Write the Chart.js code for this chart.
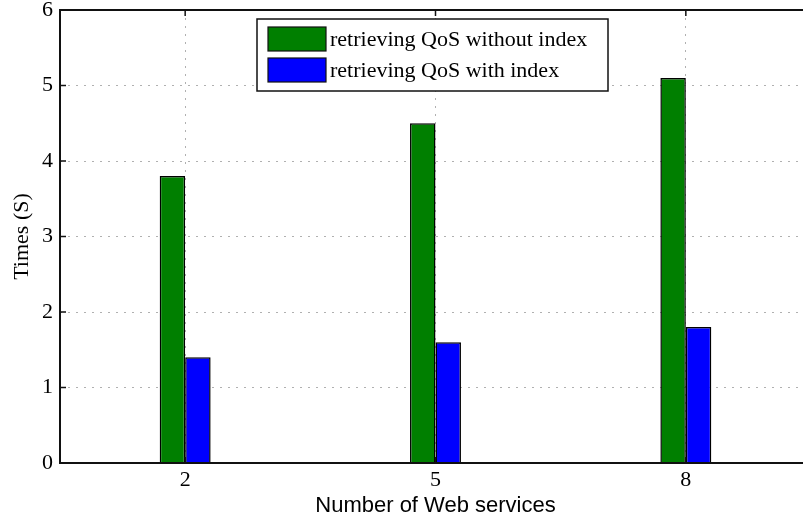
<!DOCTYPE html>
<html>
<head>
<meta charset="utf-8">
<title>Times (S)</title>
<script src="https://cdn.jsdelivr.net/npm/chart.js@4/dist/chart.umd.min.js"></script>
<style>
  html, body { margin: 0; padding: 0; background: #fff; overflow: hidden; }
  #wrap { width: 803px; height: 520px; overflow: hidden; }
</style>
</head>
<body>
<div id="wrap">
  <canvas id="chart" width="830" height="520"></canvas>
</div>
<script>
// number of web services (bar positions), zero groups sit between the labelled ones
const services = [2, 3.5, 5, 6.5, 8];
const withoutIndex = [3.8, 0, 4.5, 0, 5.1];
const withIndex = [1.4, 0, 1.6, 0, 1.8];
const xTicks = [2, 5, 8];
const seriesNames = ['retrieving QoS without index', 'retrieving QoS with index'];
const seriesColors = ['#007f00', '#0000ff'];

const serif = 'Liberation Serif, Times New Roman, serif';
const sans = 'Liberation Sans, Arial, sans-serif';

// matlab-ish box: frame, inward ticks and a framed legend
const boxPlugin = {
  id: 'box',
  afterDraw(chart) {
    const { ctx, chartArea: a, scales } = chart;
    ctx.save();
    ctx.strokeStyle = '#111';
    ctx.lineWidth = 1.5;
    ctx.beginPath();
    scales.y.ticks.forEach(t => {
      const y = scales.y.getPixelForValue(t.value);
      ctx.moveTo(a.left, y); ctx.lineTo(a.left + 6, y);
    });
    scales.x.ticks.forEach(t => {
      const x = scales.x.getPixelForValue(t.value);
      ctx.moveTo(x, a.bottom); ctx.lineTo(x, a.bottom - 6);
      ctx.moveTo(x, a.top); ctx.lineTo(x, a.top + 6);
    });
    ctx.stroke();

    ctx.lineWidth = 2;
    ctx.strokeRect(a.left, a.top, a.right - a.left, a.bottom - a.top);

    // legend
    const lx = 257, ly = 19, lw = 351, lh = 72;
    ctx.fillStyle = '#fff';
    ctx.fillRect(lx, ly, lw, lh);
    ctx.lineWidth = 1.5;
    ctx.strokeStyle = '#111';
    ctx.strokeRect(lx, ly, lw, lh);
    ctx.font = '22px ' + serif;
    ctx.textBaseline = 'middle';
    ctx.textAlign = 'left';
    chart.data.datasets.forEach((ds, i) => {
      const sy = ly + 8 + i * 31;
      ctx.fillStyle = ds.backgroundColor;
      ctx.fillRect(lx + 11, sy, 58, 24);
      ctx.lineWidth = 1.2;
      ctx.strokeRect(lx + 11, sy, 58, 24);
      ctx.fillStyle = '#000';
      ctx.fillText(ds.label, lx + 73, sy + 13);
    });
    ctx.restore();
  }
};

const mkData = vals => services.map((x, i) => ({ x: x, y: vals[i] }));

new Chart(document.getElementById('chart'), {
  type: 'bar',
  data: {
    datasets: [
      { label: seriesNames[0], data: mkData(withoutIndex), backgroundColor: seriesColors[0] },
      { label: seriesNames[1], data: mkData(withIndex), backgroundColor: seriesColors[1] }
    ]
  },
  options: {
    responsive: false,
    animation: false,
    layout: { padding: { top: 10, right: 19, left: 0, bottom: 0 } },
    datasets: {
      bar: {
        borderColor: '#000',
        borderWidth: 1.5,
        barPercentage: 1,
        categoryPercentage: 0.407
      }
    },
    plugins: {
      legend: { display: false },
      tooltip: { enabled: false }
    },
    scales: {
      x: {
        type: 'linear',
        min: 0.5,
        max: 9.5,
        offset: false,
        afterBuildTicks: s => { s.ticks = xTicks.map(v => ({ value: v })); },
        afterFit: s => { s.height = 57; },
        grid: { offset: false, color: '#b0b0b0', lineWidth: 1, drawTicks: false },
        border: { display: false, dash: [2, 6] },
        ticks: {
          padding: 4,
          color: '#000',
          font: { family: serif, size: 22 },
          callback: v => String(v)
        },
        title: {
          display: true,
          text: 'Number of Web services',
          color: '#000',
          font: { family: sans, size: 22 },
          padding: { top: 0, bottom: 1 }
        }
      },
      y: {
        min: 0,
        max: 6,
        afterFit: s => { s.width = 60; s.paddingTop = 0; s.paddingBottom = 0; },
        grid: {
          drawTicks: false,
          lineWidth: 1,
          color: c => (c.tick.value === 0 || c.tick.value === 6) ? 'rgba(0,0,0,0)' : '#b0b0b0'
        },
        border: { display: false, dash: [2, 6] },
        ticks: {
          stepSize: 1,
          padding: 7,
          color: '#000',
          font: { family: serif, size: 22 }
        },
        title: {
          display: true,
          text: 'Times (S)',
          color: '#000',
          font: { family: serif, size: 22 },
          padding: { top: 9, bottom: 0 }
        }
      }
    }
  },
  plugins: [boxPlugin]
});
</script>
</body>
</html>
